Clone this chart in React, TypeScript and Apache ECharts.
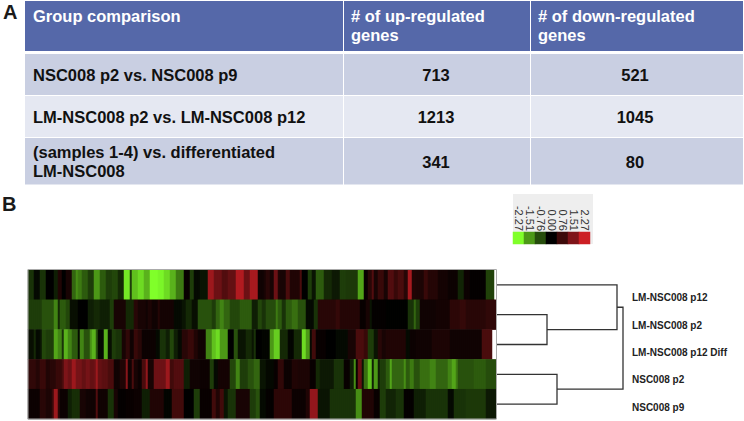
import React, { useEffect, useRef } from "react";
import * as echarts from "echarts";

const sampleNames = ["LM-NSC008 p12", "LM-NSC008 p2", "LM-NSC008 p12 Diff", "NSC008 p2", "NSC008 p9"];
const tableHeader = ["Group comparison", "# of up-regulated\ngenes", "# of down-regulated\ngenes"];
const comparisons = ["NSC008 p2 vs. NSC008 p9", "LM-NSC008 p2 vs. LM-NSC008 p12", "(samples 1-4) vs. differentiated\nLM-NSC008"];
const upRegulated = ["713", "1213", "341"];
const downRegulated = ["521", "1045", "80"];
const legendTicks = ["-2.27", "-1.51", "-0.76", "0.00", "0.76", "1.51", "2.27"];
const legendValues = [-2.27, -1.51, -0.76, 0, 0.76, 1.51, 2.27];
const paletteColors = ["#80ff2a", "#4d9917", "#264d0c", "#000000", "#3d0a0a", "#7f1419", "#cc1f24"];

// Each heat-map row is a list of [number of genes, expression value] runs.
const row1: number[][] = [
  [3,-.5],[3,-.1],[3,-.5],[4,0],[2,-.3],[2,.4],[2,0],[3,.3],[2,-1],[1,-1.4],[2,-1.2],[3,-.9],[3,-.6],[3,-1.5],[3,-.9],[3,-.6],[3,-.7],[3,-.4],[3,-2.1],[1,-.6],[3,-1.8],[3,-2],
  [3,-1.7],[4,-2.27],[3,-2.2],[3,-2],[3,-1.7],[4,-1.2],[3,.1],[2,-.6],[3,-.1],[4,-.2],[3,1.8],[4,1.3],[3,1],[4,1.2],[4,2],[3,1.3],[4,1.9],[3,.2],
  [1,.3],[2,.5],[2,.3],[2,1.3],[1,.4],[3,.3],[2,.9],[5,.4],[1,.9],[3,0],[2,-.6],[2,-.2],[4,-.9],[4,-.4],[4,-.25],[3,-.6],[6,-.55],[3,-1.6],[2,.1],[2,.5],[1,1],[2,.3],[3,.7],
  [2,.3],[3,1],[2,.7],[3,.9],[2,.5],[2,1.9],[2,.4],[4,.35],[2,.7],[5,.45],[5,.25],[5,.15],[3,-.35],[3,.15],[8,.05],[4,-.65],
];
const row2: number[][] = [
  [7,-.6],[6,-.8],[2,-1.3],[1,-.4],[3,-.9],[2,-.7],[4,-.15],[5,0],[3,-.3],[3,-.4],[5,-.3],[2,-.6],[6,.3],[4,-.4],[2,.5],[4,.3],
  [1,.2],[2,.35],[3,.2],[1,.45],[7,.25],[4,-.1],[2,-.2],[3,-.4],[3,-.15],[7,-.8],[2,-.6],[2,-1],[2,-1.3],[3,-1],[5,-.7],[6,-.9],[3,-.3],[2,-.7],[2,-.5],
  [5,-.75],[1,-1.2],[2,-.9],[2,-.5],[3,-.9],[3,-1.1],[4,-.8],[4,-.1],[2,-.5],[9,.5],[2,.65],[10,.45],[3,.1],[2,.3],[1,-.2],[7,.05],
  [11,-.02],[3,-.5],[1,-1],[2,-.6],[8,.2],[7,.25],[5,.55],[3,.65],[10,.5],[5,.6],
];
const row3: number[][] = [
  [3,-.15],[1,-.4],[2,-.1],[1,-.2],[2,-.7],[4,-.6],[2,-1.6],[2,-1.3],[1,-.5],[2,-1.7],[2,-1.3],[3,-.9],[1,-.1],[2,-1.3],[3,-.8],[1,-1.4],[2,-1.7],[1,-.8],[3,-.1],[2,-1.7],[2,-.15],[2,-.6],[3,-.5],[2,.3],[2,.6],[2,.2],[2,.7],[2,.5],
  [7,.15],[2,-.1],[3,-.5],[2,-.3],[2,-.7],[2,-.3],[2,-.1],[3,.5],[3,.7],[2,.4],[4,.2],[3,-1.3],[2,-1.8],[2,-2],[4,-1.5],[3,0],[2,-.8],[4,-.2],[3,-.4],[1,-.2],[1,-.5],[3,0],
  [4,-.05],[2,-1.5],[3,-1.9],[4,-.4],[3,-.05],[4,-.4],[2,-2],[2,-1.5],[1,-.1],[2,.8],[5,.1],[5,0],[6,-.1],[4,.3],[4,.9],[2,.7],[3,-.6],[2,-.2],[2,.5],
  [2,.3],[10,.4],[2,-.1],[3,.15],[8,.2],[9,.35],[16,.2],[5,.9],
];
const row4: number[][] = [
  [4,.6],[2,.45],[3,.7],[2,.4],[3,.5],[3,.7],[1,.9],[2,1.5],[2,1.3],[2,1.8],[3,1.4],[2,1.2],[2,1.4],[2,1.2],[1,1.3],[1,1.8],[2,1.2],[3,1.1],[3,.9],[3,.2],[3,.4],[1,1.6],[2,.2],[1,.9],[2,.3],[2,.15],[2,.9],
  [1,1.7],[3,.3],[6,1.3],[2,1.8],[2,.8],[5,1],[3,-.3],[5,.2],[5,.15],[2,-.6],[2,-.1],[6,.25],[3,-.7],[2,-1.3],[4,-.6],[3,-.8],[3,-1],[3,-.2],
  [4,-.08],[2,.1],[3,.6],[4,.15],[3,.4],[6,.35],[3,.1],[2,-.4],[7,-.25],[5,-.5],[3,.1],[2,-.3],[1,-1.4],[1,.1],[2,1.2],[1,-.2],[2,-1.1],[2,-1.8],[1,-.3],[2,-1.5],[1,-.3],[3,-.6],
  [2,-.9],[1,-1.6],[6,-1],[1,-1.4],[2,-.9],[2,-1.2],[3,-.8],[5,-1.1],[3,-1.3],[6,-1],[2,-1.3],[2,-1.6],[1,-1.2],[8,-.8],[6,-.9],[5,-.75],
];
const row5: number[][] = [
  [6,.15],[3,.5],[3,.35],[1,.7],[2,1.8],[1,.5],[4,.15],[2,-.3],[4,-.45],[3,.3],[5,.2],[1,1],[5,.2],[3,-.5],[2,.3],[4,.05],[4,.1],[4,.15],[2,-.3],
  [2,-.3],[7,.4],[4,-.05],[6,.8],[5,0],[3,-.6],[6,.1],[2,.8],[2,.4],[2,.8],[2,-.2],[4,-.5],[7,.3],[3,-.6],[2,-.8],[3,-.1],
  [4,.05],[9,.55],[7,.15],[2,.4],[4,1.7],[6,-.2],[13,-.5],[3,-1.4],[6,.4],[3,.1],[3,-.6],
  [5,-.35],[4,-.5],[5,.05],[6,-.3],[11,-.5],[3,-.1],[6,-.5],[10,-.55],[5,-.25],
];
const rowRuns = [row1, row2, row3, row4, row5];

// Dendrogram merges: [child node, child node, merge distance]; nodes 0-4 are rows, 5+ are earlier merges.
const dendroMerges = [[1, 2, 51], [3, 4, 61], [0, 5, 121], [7, 6, 127]];

const FONT = '"Liberation Sans", Arial, sans-serif';

function expandRuns(): number[][] {
  const out: number[][] = [];
  rowRuns.forEach((runs, r) => {
    let c = 0;
    runs.forEach(([n, v]) => {
      for (let i = 0; i < n; i++) out.push([c++, r, v]);
    });
  });
  return out;
}

function dendroSegments(): number[][][] {
  const nodeY: number[] = [0.5, 1.5, 2.5, 3.5, 4.5];
  const nodeH: number[] = [0, 0, 0, 0, 0];
  return dendroMerges.map(([a, b, h]) => {
    const pts = [[nodeH[a], nodeY[a]], [h, nodeY[a]], [h, nodeY[b]], [nodeH[b], nodeY[b]]];
    nodeY.push((nodeY[a] + nodeY[b]) / 2);
    nodeH.push(h);
    return pts;
  });
}

function tableGraphics(): any[] {
  const cols = [[25, 318], [344, 186], [531, 212]];
  const rows = [[1, 50, "#5568a9"], [54, 41, "#c9cfe2"], [96, 41, "#e5e8f2"], [138, 46.5, "#c9cfe2"]];
  const els: any[] = [];
  const txt = (x: number, y: number, text: string, fill: string, align = "left") => ({
    type: "text", x, y, z: 5,
    style: { text, fill, font: `bold 16.5px ${FONT}`, align, verticalAlign: "middle", lineHeight: 19.5 },
  });
  rows.forEach((r) => cols.forEach((c) => {
    els.push({ type: "rect", shape: { x: c[0], y: r[0] as number, width: c[1], height: r[1] as number }, style: { fill: r[2] as string } });
  }));
  els.push(txt(33, 15.5, tableHeader[0], "#ffffff"));
  els.push(txt(351, 25.5, tableHeader[1], "#ffffff"));
  els.push(txt(538, 25.5, tableHeader[2], "#ffffff"));
  const ys = [75, 117, 161.5];
  comparisons.forEach((t, i) => {
    els.push(txt(33, ys[i], t, "#111111"));
    els.push(txt(436, ys[i], upRegulated[i], "#111111", "center"));
    els.push(txt(635, ys[i], downRegulated[i], "#111111", "center"));
  });
  return els;
}

export default function App() {
  const ref = useRef<HTMLDivElement>(null);
  useEffect(() => {
    document.body.style.margin = "0";
    const chart = echarts.init(ref.current!, null, { renderer: "svg" });
    const segments = dendroSegments();
    const labelY = [297, 325, 352, 379, 407];
    chart.setOption({
      animation: false,
      backgroundColor: "#ffffff",
      grid: [
        { left: 28, top: 270, width: 468, height: 149 },
        { left: 513, top: 232, width: 77, height: 12 },
        { left: 496, top: 270, width: 130, height: 149 },
      ],
      xAxis: [
        { type: "category", gridIndex: 0, data: Array.from({ length: 234 }, (_, i) => String(i)), show: false },
        {
          type: "category", gridIndex: 1, position: "top", data: legendTicks,
          axisLine: { show: false }, axisTick: { show: false },
          axisLabel: { rotate: 90, interval: 0, margin: 1, fontSize: 11, color: "#333333", fontFamily: FONT, hideOverlap: false, padding: [6, 0, 0, 0] },
        },
        { type: "value", gridIndex: 2, min: 0, max: 130, show: false },
      ],
      yAxis: [
        { type: "category", gridIndex: 0, inverse: true, data: sampleNames, show: false },
        { type: "category", gridIndex: 1, data: [""], show: false },
        { type: "value", gridIndex: 2, min: 0, max: 5, inverse: true, show: false },
      ],
      visualMap: {
        show: false, type: "continuous", seriesIndex: [0, 1], dimension: 2,
        min: -2.27, max: 2.27, inRange: { color: paletteColors },
      },
      series: [
        {
          type: "heatmap", xAxisIndex: 0, yAxisIndex: 0, data: expandRuns(), progressive: 0,
          itemStyle: { borderWidth: 0 }, emphasis: { disabled: true },
        },
        {
          type: "heatmap", xAxisIndex: 1, yAxisIndex: 1, z: 3,
          data: legendValues.map((v, i) => [i, 0, v]), emphasis: { disabled: true },
        },
        {
          type: "custom", xAxisIndex: 2, yAxisIndex: 2, coordinateSystem: "cartesian2d",
          data: segments.map((_, i) => [i]),
          encode: { x: 0, y: 0 },
          renderItem: (params: any, api: any) => ({
            type: "polyline",
            shape: { points: segments[params.dataIndex].map((p) => api.coord(p)) },
            style: { stroke: "#333333", fill: "none", lineWidth: 1.3 },
          }),
        },
      ],
      graphic: [
        ...tableGraphics(),
        { type: "text", x: 3, y: 12, style: { text: "A", fill: "#1a1a1a", font: `bold 20px ${FONT}`, verticalAlign: "middle" } },
        { type: "text", x: 2, y: 204, style: { text: "B", fill: "#1a1a1a", font: `bold 20px ${FONT}`, verticalAlign: "middle" } },
        { type: "rect", z: -1, shape: { x: 513, y: 194, width: 80, height: 50 }, style: { fill: "#eeeeee" } },
        { type: "rect", z: 10, shape: { x: 28, y: 269.5, width: 468.5, height: 149.5 }, style: { fill: "none", stroke: "#aaaaaa", lineWidth: 1 } },
        ...sampleNames.map((name, i) => ({
          type: "text", x: 632, y: labelY[i],
          style: { text: name, fill: "#222222", font: `bold 10px ${FONT}`, verticalAlign: "middle" },
        })),
      ],
    });
    return () => chart.dispose();
  }, []);
  return <div ref={ref} style={{ position: "absolute", left: 0, top: 0, width: 744, height: 421 }} />;
}
